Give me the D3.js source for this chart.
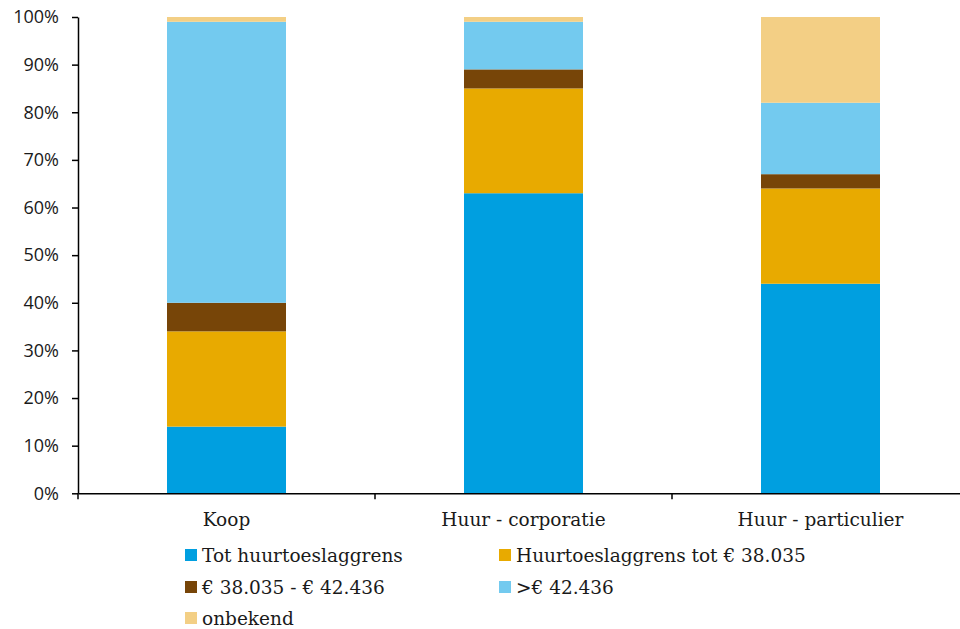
<!DOCTYPE html>
<html><head><meta charset="utf-8">
<script src="https://cdn.jsdelivr.net/npm/d3@7"></script>
<style>body{margin:0;background:#fff}</style>
</head><body><svg id="c" width="960" height="629"></svg>
<script>
const categories = ["Koop", "Huur - corporatie", "Huur - particulier"];
const seriesNames = ["Tot huurtoeslaggrens", "Huurtoeslaggrens tot € 38.035", "€ 38.035 - € 42.436", ">€ 42.436", "onbekend"];
const totHuurtoeslaggrens = [14, 63, 44];
const huurtoeslaggrensTot38035 = [20, 22, 20];
const van38035tot42436 = [6, 4, 3];
const boven42436 = [59, 10, 15];
const onbekend = [1, 1, 18];
const yTicks = [0, 10, 20, 30, 40, 50, 60, 70, 80, 90, 100];
const colors = ["#009FE0", "#E8AA00", "#774508", "#73CAEF", "#F3CF85"];

(function () {
const seriesValues = [totHuurtoeslaggrens, huurtoeslaggrensTot38035, van38035tot42436, boven42436, onbekend];
const rows = categories.map((c, i) => {
  const r = {cat: c};
  seriesNames.forEach((s, j) => r[s] = seriesValues[j][i]);
  return r;
});
const stacked = d3.stack().keys(seriesNames)(rows);

const svg = d3.select("#c");
const mLeft = 78, mRight = 969, mTop = 17, mBottom = 493.3;
const x = d3.scaleBand().domain(categories).range([mLeft, mRight]).paddingInner(0).paddingOuter(0);
const y = d3.scaleLinear().domain([0, 100]).range([mBottom, mTop]);
const barW = 119;

svg.append("g").selectAll("g").data(stacked).join("g")
  .attr("fill", (d, i) => colors[i])
  .selectAll("rect").data(d => d).join("rect")
  .attr("x", d => x(d.data.cat) + x.bandwidth() / 2 - barW / 2)
  .attr("width", barW)
  .attr("y", d => y(d[1]))
  .attr("height", d => y(d[0]) - y(d[1]));

// y axis
const ya = svg.append("g").attr("transform", `translate(${mLeft},0)`)
  .call(d3.axisLeft(y).tickValues(yTicks).tickFormat(d => d + "%").tickSize(6).tickSizeOuter(0));
ya.select(".domain").attr("stroke", "#000").attr("stroke-width", 1.5);
ya.selectAll(".tick line").attr("stroke", "#000").attr("stroke-width", 1.5);
ya.selectAll("text").attr("font-family", "'Open Sans', sans-serif").attr("font-size", 18).attr("fill", "#1a1a1a").attr("x", -19);

// x axis
const xa = svg.append("g").attr("transform", `translate(0,${mBottom})`)
  .call(d3.axisBottom(x).tickSize(0).tickSizeOuter(0));
xa.select(".domain").attr("stroke", "#000").attr("stroke-width", 1.5);
xa.selectAll("text").attr("font-family", "'DejaVu Serif', serif").attr("font-size", 18.5).attr("fill", "#1a1a1a").attr("dy", "0").attr("y", 33);
xa.selectAll(".sep").data(categories.slice(1)).join("line")
  .attr("x1", d => x(d)).attr("x2", d => x(d)).attr("y1", 0).attr("y2", 6)
  .attr("stroke", "#000").attr("stroke-width", 1.5);
xa.append("line").attr("x1", mLeft).attr("x2", mLeft).attr("y1", 0).attr("y2", 6).attr("stroke", "#000").attr("stroke-width", 1.5);

// legend
const legPos = [[185, 555], [499, 555], [185, 587], [499, 587], [185, 618]];
const lg = svg.append("g").selectAll("g").data(seriesNames).join("g")
  .attr("transform", (d, i) => `translate(${legPos[i][0]},${legPos[i][1]})`);
lg.append("rect").attr("x", 0).attr("y", -6).attr("width", 12).attr("height", 12).attr("fill", (d, i) => colors[i]);
lg.append("text").attr("x", 17).attr("y", 6.5).text(d => d)
  .attr("font-family", "'DejaVu Serif', serif").attr("font-size", 18.5).attr("fill", "#1a1a1a");
})();
</script></body></html>
